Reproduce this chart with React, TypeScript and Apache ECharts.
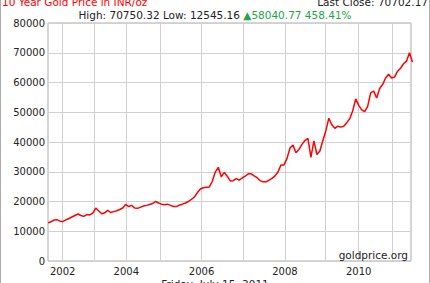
import { useEffect, useRef } from "react";
import * as echarts from "echarts";

// Gold price in INR/oz, one sample every ~3px of the original plot (Jul 2001 – Jul 2011)
const prices = [
  12800, 13200, 13750, 13900, 13400, 13300, 13800, 14300, 14800, 15300,
  15800, 15300, 15000, 15600, 15500, 16100, 17800, 16800, 15900, 16200,
  17000, 16300, 16600, 16900, 17300, 17800, 19000, 18300, 18700, 17800,
  17700, 18100, 18500, 18700, 19000, 19300, 20000, 19500, 19100, 18900,
  19100, 18700, 18300, 18300, 18800, 19100, 19500, 20000, 20700, 21500,
  23000, 24200, 24600, 24800, 24900, 26800, 29900, 31500, 28300, 29800,
  28500, 26900, 27000, 27700, 27200, 27900, 28500, 29300, 29300, 28600,
  28000, 27000, 26600, 26600, 27200, 27800, 28600, 30000, 32300, 32300,
  34500, 38000, 39000, 36400, 37500, 39200, 40500, 41200, 34800, 40400,
  35800, 37000, 40500, 43800, 48000, 45800, 44600, 45300, 45000, 45300,
  46500, 47800, 50500, 54500, 52300, 50800, 50200, 52000, 56500, 57100,
  54800, 58000, 59300, 61500, 62800, 61500, 61800, 63800, 64800, 66300,
  67200, 70000, 66800,
];

// Sample index at which each calendar year begins
const years = [2002, 2003, 2004, 2005, 2006, 2007, 2008, 2009, 2010, 2011];
const yearStartIndex = [4.9, 15.4, 26.2, 37.7, 51.4, 65.3, 79.3, 92.7, 104, 115.1];
const labelYears = [2002, 2004, 2006, 2008, 2010];

const titleText = "10 Year Gold Price in INR/oz";
const lastCloseText = "Last Close: 70702.17";
const highLowText = "High: 70750.32 Low: 12545.16 ";
const changeText = "▲58040.77 458.41%";
const dateText = "Friday, July 15, 2011";
const sourceText = "goldprice.org";

const FONT = "DejaVu Sans, Verdana, sans-serif";

export default function App() {
  const ref = useRef<HTMLDivElement>(null);

  useEffect(() => {
    if (!ref.current) return;
    const chart = echarts.init(ref.current, undefined, { renderer: "svg" });
    const data = prices.map((v, i) => [i, v]);
    const labelPositions = labelYears.map((y) => yearStartIndex[years.indexOf(y)]);

    chart.setOption({
      animation: false,
      backgroundColor: "#ffffff",
      grid: {
        left: 48,
        top: 23,
        width: 363,
        height: 238,
        show: true,
        borderColor: "#aaaaaa",
        borderWidth: 1,
        containLabel: false,
      },
      xAxis: {
        type: "value",
        min: 0,
        max: prices.length - 1.5,
        axisLine: { show: false },
        axisTick: { show: false, customValues: yearStartIndex },
        splitLine: { show: true, lineStyle: { color: "#d0d0d0", width: 1 } },
        axisLabel: {
          customValues: labelPositions,
          color: "#222",
          fontSize: 10,
          fontFamily: FONT,
          margin: 5,
          formatter: (v: number) => {
            let best = 0;
            for (let k = 0; k < yearStartIndex.length; k++) {
              if (Math.abs(yearStartIndex[k] - v) < Math.abs(yearStartIndex[best] - v)) best = k;
            }
            return String(years[best]);
          },
        },
      },
      yAxis: {
        type: "value",
        min: 0,
        max: 80000,
        interval: 10000,
        axisLine: { show: false },
        axisTick: { show: false },
        splitLine: { show: true, lineStyle: { color: "#d0d0d0", width: 1 } },
        axisLabel: {
          color: "#222",
          fontSize: 10,
          fontFamily: FONT,
          margin: 3,
          formatter: (v: number) => String(v),
        },
      },
      series: [
        {
          type: "line",
          data,
          showSymbol: false,
          lineStyle: { color: "#ff0000", width: 1.5 },
          z: 3,
        },
      ],
      graphic: [
        { type: "line", shape: { x1: 0.5, y1: 0, x2: 0.5, y2: 283 }, style: { stroke: "#aaaaaa", lineWidth: 1 } },
        { type: "line", shape: { x1: 429.5, y1: 0, x2: 429.5, y2: 283 }, style: { stroke: "#aaaaaa", lineWidth: 1 } },
        {
          type: "text",
          x: 2,
          y: 2,
          style: { text: titleText, fill: "#ff0000", fontSize: 10.5, fontFamily: FONT, align: "left", verticalAlign: "middle" },
        },
        {
          type: "text",
          x: 428,
          y: 2,
          style: { text: lastCloseText, fill: "#222", fontSize: 10.5, fontFamily: FONT, align: "right", verticalAlign: "middle" },
        },
        {
          type: "text",
          x: 215,
          y: 15,
          style: {
            text: "{a|" + highLowText + "}{g|" + changeText + "}",
            align: "center",
            verticalAlign: "middle",
            rich: {
              a: { fill: "#222", fontSize: 10.5, fontFamily: FONT },
              g: { fill: "#22a545", fontSize: 10.5, fontFamily: FONT },
            },
          },
        },
        {
          type: "text",
          x: 408,
          y: 255,
          z: 10,
          style: { text: sourceText, fill: "#222", fontSize: 10.5, fontFamily: FONT, align: "right", verticalAlign: "middle" },
        },
        {
          type: "text",
          x: 215,
          y: 284,
          style: { text: dateText, fill: "#222", fontSize: 10.5, fontFamily: FONT, align: "center", verticalAlign: "middle" },
        },
      ],
    });
    return () => chart.dispose();
  }, []);

  return (
    <div
      ref={ref}
      style={{ position: "fixed", left: 0, top: 0, width: 430, height: 283, background: "#fff" }}
    />
  );
}
